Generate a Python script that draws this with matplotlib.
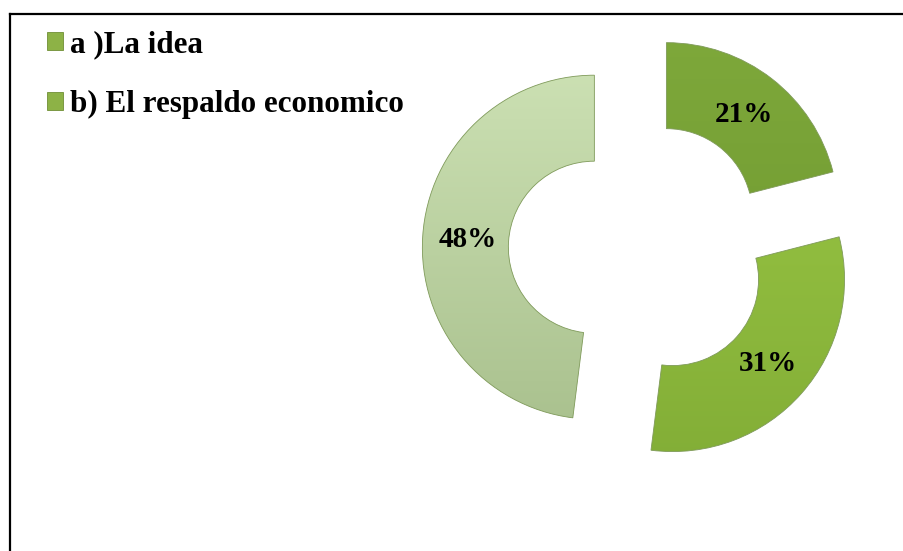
import numpy as np
import matplotlib.pyplot as plt
from matplotlib.patches import Patch
from matplotlib.lines import Line2D
from matplotlib.colors import to_rgb

plt.rcParams['font.family'] = ['Liberation Serif', 'DejaVu Serif']
plt.rcParams['font.weight'] = 'bold'

# datos
categorias = ['a )La idea', 'b) El respaldo economico', 'c)']
porcentajes = [21, 31, 48]
leyenda = ['a )La idea', 'b) El respaldo economico']

colores = ['#78a336', '#93c240', '#bcd59e']
degradados = [('#80aa3c', '#68922b'), ('#a0cd48', '#80ab35'), ('#d3e7bb', '#a2ba86')]

W, H = 904, 551
fig = plt.figure(figsize=(W / 100, H / 100), dpi=100)

R = 172
cx, cy = 639, 250
ax = fig.add_axes([(cx - 1.5 * R) / W, (H - cy - 1.5 * R) / H, 3 * R / W, 3 * R / H])

wedges, textos, autotextos = ax.pie(
    porcentajes, startangle=90, counterclock=False,
    explode=[0.26] * 3, colors=colores,
    autopct='%1.0f%%', pctdistance=0.74,
    wedgeprops=dict(width=0.5, edgecolor='#7f9a5a', linewidth=0.6),
    textprops=dict(fontsize=21, fontweight='bold', color='black'))

# relleno degradado
for w, (c1, c2) in zip(wedges, degradados):
    a = np.array(to_rgb(c1))
    b = np.array(to_rgb(c2))
    t = np.linspace(0, 1, 256)[:, None]
    img = (a * (1 - t) + b * t)[:, None, :]
    im = ax.imshow(img, extent=(-1.5, 1.5, -1.5, 1.5), aspect='auto', zorder=w.get_zorder())
    im.set_clip_path(w)
    w.set_facecolor('none')
    w.set_zorder(w.get_zorder() + 0.1)
for t in autotextos:
    t.set_zorder(5)
ax.set_xlim(-1.5, 1.5)
ax.set_ylim(-1.5, 1.5)
ax.axis('off')

handles = [Patch(facecolor='#8db246', edgecolor='#6f8f35', linewidth=0.6) for _ in leyenda]
fig.legend(handles, leyenda, loc='upper left', bbox_to_anchor=(47 / W, 1 - 30 / H),
           frameon=False, borderpad=0, borderaxespad=0, handlelength=0.5, handleheight=0.5,
           handletextpad=0.25, labelspacing=1.0,
           prop=dict(family='Liberation Serif', weight='bold', size=22.4))

# marco
fig.add_artist(Line2D([9.5 / W, 9.5 / W], [0, 1 - 13.5 / H], color='black', lw=1.6))
fig.add_artist(Line2D([9.5 / W, 1], [1 - 13.5 / H, 1 - 13.5 / H], color='black', lw=1.6))

fig.savefig('out.png', dpi=100)
